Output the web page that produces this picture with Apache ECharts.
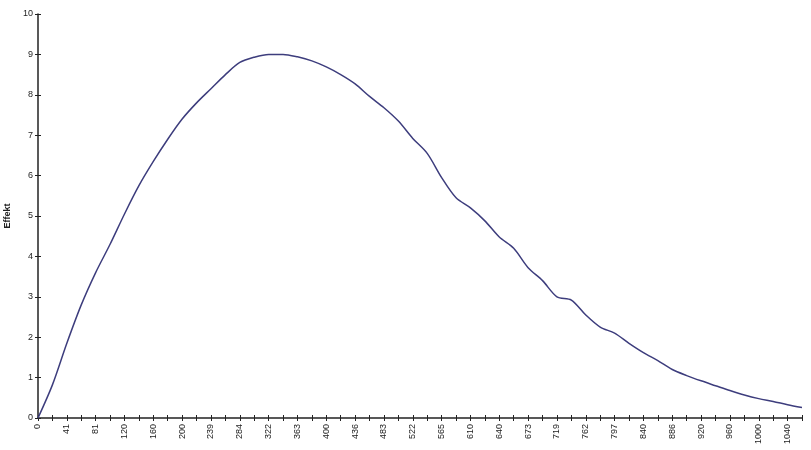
<!DOCTYPE html>
<html>
<head>
<meta charset="utf-8">
<script src="https://cdn.jsdelivr.net/npm/echarts@6/dist/echarts.min.js"></script>
<style>html,body{margin:0;padding:0;background:#fff}#c{width:811px;height:450px}</style>
</head>
<body>
<div id="c"></div>
<script>
var categories = ['0','20','41','61','81','100','120','140','160','180','200','220','239','262','284','303','322','343','363','382','400','418','436','460','483','503','522','544','565','588','610','625','640','657','673','696','719','741','762','780','797','819','840','863','886','903','920','940','960','980','1000','1020','1040','1060'];
var values = [0,0.82,1.85,2.8,3.6,4.3,5.05,5.75,6.35,6.9,7.4,7.8,8.15,8.5,8.8,8.93,9.0,9.0,8.94,8.84,8.69,8.5,8.27,7.96,7.68,7.35,6.92,6.55,5.95,5.45,5.2,4.88,4.48,4.2,3.72,3.4,3.0,2.92,2.55,2.25,2.1,1.85,1.62,1.42,1.2,1.05,0.92,0.8,0.68,0.57,0.48,0.41,0.33,0.26];
var yName = 'Effekt';

var chart = echarts.init(document.getElementById('c'));
var axisLineStyle = {color:'#222', width:1.5};
var labelFont = {fontFamily:'Liberation Sans, Arial, sans-serif', fontSize:9, color:'#222'};
chart.setOption({
  animation:false,
  grid:{left:38, right:9, top:14, bottom:32, containLabel:false, outerBoundsMode:'none'},
  xAxis:[{
    type:'category', data:categories, boundaryGap:false,
    axisLine:{lineStyle:axisLineStyle},
    axisTick:{show:true, interval:0, length:3, lineStyle:{color:'#222'}},
    axisLabel:Object.assign({interval:1, rotate:90, margin:6}, labelFont),
    splitLine:{show:false}
  },{
    type:'category', data:categories, boundaryGap:false, position:'bottom',
    axisLine:{show:false},
    axisTick:{show:true, inside:true, interval:0, length:3, lineStyle:{color:'#222'}},
    axisLabel:{show:false}, splitLine:{show:false}
  }],
  yAxis:[{
    type:'value', min:0, max:10, interval:1,
    name:yName, nameLocation:'middle', nameGap:26, nameRotate:90,
    nameTextStyle:{fontFamily:'Liberation Sans, Arial, sans-serif', fontSize:9, fontWeight:'bold', color:'#222'},
    axisLine:{show:true, lineStyle:axisLineStyle},
    axisTick:{show:true, length:3, lineStyle:{color:'#222'}},
    axisLabel:Object.assign({margin:5}, labelFont),
    splitLine:{show:false}
  },{
    type:'value', min:0, max:10, interval:1, position:'left',
    axisLine:{show:false},
    axisTick:{show:true, inside:true, length:3, lineStyle:{color:'#222'}},
    axisLabel:{show:false}, splitLine:{show:false}
  }],
  series:[{
    type:'line', data:values, smooth:0.3, symbol:'none',
    lineStyle:{color:'#3d3d7d', width:1.5}
  }]
});
</script>
</body>
</html>
